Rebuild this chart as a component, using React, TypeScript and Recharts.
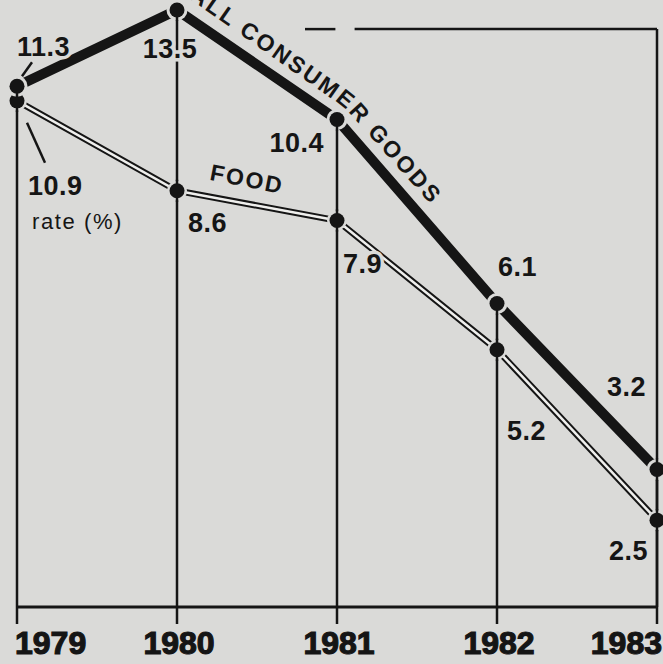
import { LineChart, Line, XAxis, YAxis, ReferenceLine } from "recharts";

const years = [1979, 1980, 1981, 1982, 1983];
const allGoods = [11.3, 13.5, 10.4, 6.1, 3.2];
const food = [10.9, 8.6, 7.9, 5.2, 2.5];
const seriesNames = { all: "ALL CONSUMER GOODS", food: "FOOD" };
const unitLabel = "rate (%)";

const data = years.map((year, i) => ({ year, all: allGoods[i], food: food[i] }));

// geometry
const W = 663;
const H = 664;
const MARGIN = { top: 10, right: 6, bottom: 0, left: 17 };
const AXIS_H = 57;
const BASE_Y = H - MARGIN.bottom - AXIS_H;
const Y_DOMAIN: [number, number] = [1.5, 13.5];
// the box border that runs round the top right of the plot
const FRAME_TOP = 12.93;
const FRAME_DASH = [1980.8, 1980.99];
const FRAME_LEFT = 1981.11;

const BG = "#dadad8";
const INK = "#151515";
const PALE = "#efefed";
const FONT = "'Liberation Sans', Arial, Helvetica, sans-serif";

// value label placement, relative to each dot
const allLabelPos = [
  { dx: 0, dy: -30, anchor: "start" },
  { dx: -7, dy: 48, anchor: "middle" },
  { dx: -13, dy: 32, anchor: "end" },
  { dx: 1, dy: -28, anchor: "start" },
  { dx: -11, dy: -74, anchor: "end" },
];
const foodLabelPos = [
  { dx: 11, dy: 94, anchor: "start" },
  { dx: 11, dy: 41, anchor: "start" },
  { dx: 6, dy: 53, anchor: "start" },
  { dx: 10, dy: 90, anchor: "start" },
  { dx: -9, dy: 40, anchor: "end" },
];

function ValueText({ x, y, anchor, children }: any) {
  return (
    <text
      x={x}
      y={y}
      textAnchor={anchor}
      fontFamily={FONT}
      fontSize={27}
      fontWeight={700}
      letterSpacing={0.5}
      fill={INK}
      stroke={BG}
      strokeWidth={7}
      strokeLinejoin="round"
      paintOrder="stroke"
    >
      {children}
    </text>
  );
}

const DropLine = (props: any) => {
  const { cx, cy, index } = props;
  if (cx == null || cy == null) return <g key={`drop-${index}`} />;
  return (
    <line key={`drop-${index}`} x1={cx} y1={cy} x2={cx} y2={BASE_Y} stroke={INK} strokeWidth={2.5} />
  );
};

const AllDot = (props: any) => {
  const { cx, cy, index, payload } = props;
  if (cx == null || cy == null) return <g key={`all-${index}`} />;
  const p = allLabelPos[index];
  return (
    <g key={`all-${index}`}>
      <circle cx={cx} cy={cy} r={10.5} fill={BG} />
      <line x1={cx} y1={index === 4 ? cy - 11 : cy} x2={cx} y2={cy + 11} stroke={INK} strokeWidth={2.5} />
      <circle cx={cx} cy={cy} r={7.5} fill={INK} />
      <ValueText x={cx + p.dx} y={cy + p.dy} anchor={p.anchor}>
        {payload.all.toFixed(1)}
      </ValueText>
      {index === 0 && (
        <line x1={cx + 15} y1={cy - 24} x2={cx + 5} y2={cy - 10} stroke={INK} strokeWidth={2.5} />
      )}
      {index === 1 && (
        <g transform={`translate(${cx},${cy})`}>
          <defs>
            <path id="allGoodsPath" d="M -27,-39 L 158,91 Q 168,98 175,106 L 290,235" fill="none" />
          </defs>
          <text fontFamily={FONT} fontSize={23} fontWeight={700} letterSpacing={2.5} fill={INK}>
            <textPath href="#allGoodsPath" startOffset={47}>
              {seriesNames.all}
            </textPath>
          </text>
        </g>
      )}
    </g>
  );
};

const FoodDot = (props: any) => {
  const { cx, cy, index, payload } = props;
  if (cx == null || cy == null) return <g key={`food-${index}`} />;
  const p = foodLabelPos[index];
  return (
    <g key={`food-${index}`}>
      <circle cx={cx} cy={cy} r={10} fill={BG} />
      <line x1={cx} y1={cy - 11} x2={cx} y2={cy + 11} stroke={INK} strokeWidth={2.5} />
      <circle cx={cx} cy={cy} r={7.5} fill={INK} />
      <ValueText x={cx + p.dx} y={cy + p.dy} anchor={p.anchor}>
        {payload.food.toFixed(1)}
      </ValueText>
      {index === 0 && (
        <>
          <line x1={cx + 10} y1={cy + 22} x2={cx + 28} y2={cy + 62} stroke={INK} strokeWidth={2.5} />
          <text
            x={cx + 15}
            y={cy + 128}
            fontFamily={FONT}
            fontSize={22}
            letterSpacing={1.6}
            fill={INK}
          >
            {unitLabel}
          </text>
        </>
      )}
      {index === 1 && (
        <text
          x={cx + 32}
          y={cy - 11}
          transform={`rotate(11 ${cx + 32} ${cy - 11})`}
          fontFamily={FONT}
          fontSize={23}
          fontWeight={700}
          letterSpacing={2}
          fill={INK}
        >
          {seriesNames.food}
        </text>
      )}
    </g>
  );
};

const YearTick = (props: any) => {
  const { x, payload } = props;
  const i = years.indexOf(payload.value);
  const anchor = i === 0 ? "start" : i === years.length - 1 ? "end" : "middle";
  const dx = i === 0 ? -2 : i === years.length - 1 ? 5 : 2;
  return (
    <text
      x={x + dx}
      y={BASE_Y + 47}
      textAnchor={anchor}
      fontFamily={FONT}
      fontSize={32}
      fontWeight={700}
      fill={INK}
      stroke={INK}
      strokeWidth={1.2}
    >
      {payload.value}
    </text>
  );
};

export default function App() {
  const lastYear = years[years.length - 1];
  return (
    <div
      style={{
        position: "absolute",
        left: 0,
        top: 0,
        width: W,
        height: H,
        background: BG,
        overflow: "hidden",
      }}
    >
      <LineChart width={W} height={H} data={data} margin={MARGIN}>
        <XAxis
          dataKey="year"
          type="number"
          domain={[years[0], lastYear]}
          ticks={years}
          interval={0}
          height={AXIS_H}
          tickSize={17}
          axisLine={{ stroke: INK, strokeWidth: 3 }}
          tickLine={{ stroke: INK, strokeWidth: 2.5 }}
          tick={<YearTick />}
        />
        <YAxis hide type="number" scale="sqrt" domain={Y_DOMAIN} />
        <ReferenceLine
          segment={[
            { x: lastYear, y: FRAME_TOP },
            { x: lastYear, y: Y_DOMAIN[0] },
          ]}
          stroke={INK}
          strokeWidth={2.5}
        />
        <ReferenceLine
          segment={[
            { x: FRAME_LEFT, y: FRAME_TOP },
            { x: lastYear, y: FRAME_TOP },
          ]}
          stroke={INK}
          strokeWidth={2.5}
        />
        <ReferenceLine
          segment={[
            { x: FRAME_DASH[0], y: FRAME_TOP },
            { x: FRAME_DASH[1], y: FRAME_TOP },
          ]}
          stroke={INK}
          strokeWidth={2.5}
        />
        <Line
          dataKey="all"
          stroke="none"
          dot={DropLine}
          activeDot={false}
          legendType="none"
          isAnimationActive={false}
        />
        <Line
          dataKey="food"
          type="linear"
          stroke={INK}
          strokeWidth={6.5}
          dot={false}
          activeDot={false}
          isAnimationActive={false}
        />
        <Line
          dataKey="food"
          type="linear"
          stroke={PALE}
          strokeWidth={2.5}
          dot={FoodDot}
          activeDot={false}
          isAnimationActive={false}
        />
        <Line
          dataKey="all"
          type="linear"
          stroke={INK}
          strokeWidth={10}
          dot={AllDot}
          activeDot={false}
          isAnimationActive={false}
        />
      </LineChart>
    </div>
  );
}
